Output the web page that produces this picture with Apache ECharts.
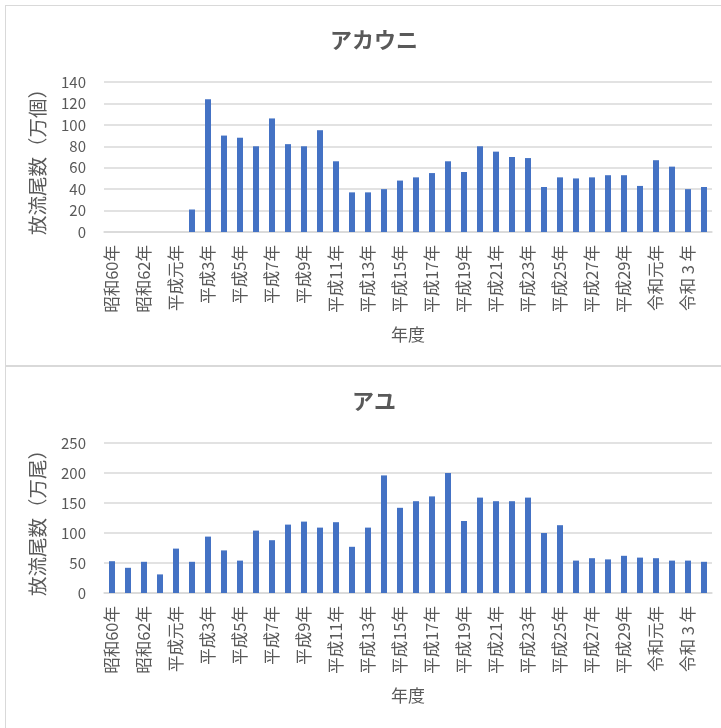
<!DOCTYPE html>
<html>
<head>
<meta charset="utf-8">
<script src="https://cdn.jsdelivr.net/npm/echarts@6/dist/echarts.min.js"></script>
<style>
html,body{margin:0;padding:0;background:#fff;width:721px;height:728px;overflow:hidden;}
.panel{position:absolute;box-sizing:border-box;border:1.5px solid #d9d9d9;background:#fff;}
#p1{left:5px;top:5px;width:730px;height:361px;}
#p2{left:5px;top:366px;width:730px;height:380px;}
.chart{position:absolute;left:0;top:0;width:720px;height:360px;}
</style>
</head>
<body>
<div id="p1" class="panel"><div id="c1" class="chart"></div></div>
<div id="p2" class="panel"><div id="c2" class="chart"></div></div>
<script>
const categories = ['昭和60年','昭和61年','昭和62年','昭和63年','平成元年','平成2年','平成3年','平成4年','平成5年','平成6年',
  '平成7年','平成8年','平成9年','平成10年','平成11年','平成12年','平成13年','平成14年','平成15年','平成16年',
  '平成17年','平成18年','平成19年','平成20年','平成21年','平成22年','平成23年','平成24年','平成25年','平成26年',
  '平成27年','平成28年','平成29年','平成30年','令和元年','令和2年','令和 3 年','令和4年'];
const akauniTitle = 'アカウニ';
const akauniValues = [null,null,null,null,null,21,124,90,88,80,
  106,82,80,95,66,37,37,40,48,51,
  55,66,56,80,75,70,69,42,51,50,
  51,53,53,43,67,61,40,42];
const akauniYName = '放流尾数（万個）';
const akauniTicks = {min:0, max:140, interval:20};
const ayuTitle = 'アユ';
const ayuValues = [53,42,52,31,74,52,94,71,54,104,
  88,114,119,109,118,77,109,196,142,153,
  161,200,120,159,153,153,159,100,113,54,
  58,56,62,59,58,54,54,52];
const ayuYName = '放流尾数（万尾）';
const ayuTicks = {min:0, max:250, interval:50};
const xName = '年度';

const FONT = '"Noto Sans CJK JP", "Noto Sans", sans-serif';
const TXT = '#595959';

function makeOption(title, values, yName, ticks){
  return {
    animation:false,
    textStyle:{fontFamily:FONT},
    title:{text:title,left:363,top:18,textAlign:'center',
      textStyle:{fontFamily:FONT,fontSize:22,fontWeight:'bold',color:TXT}},
    grid:{left:98,top:76,width:608,height:150,containLabel:false},
    xAxis:{type:'category',data:categories,
      name:xName,nameLocation:'middle',nameGap:94,
      nameTextStyle:{fontFamily:FONT,fontSize:17,color:TXT},
      axisLine:{show:true,lineStyle:{color:'#d9d9d9',width:1.5}},
      axisTick:{show:false},
      axisLabel:{interval:1,rotate:90,fontFamily:FONT,fontSize:16.5,color:TXT,margin:13}},
    yAxis:{type:'value',min:ticks.min,max:ticks.max,interval:ticks.interval,
      name:yName,nameLocation:'middle',nameGap:57,nameRotate:90,
      nameTextStyle:{fontFamily:FONT,fontSize:19.5,color:TXT},
      axisLine:{show:false},axisTick:{show:false},
      axisLabel:{fontFamily:FONT,fontSize:15,color:TXT,margin:18}},
    series:[{type:'bar',data:values,barWidth:6,
      itemStyle:{color:'#4472C4'}}]
  };
}
function opt(title, values, yName, ticks){
  const o = makeOption(title, values, yName, ticks);
  o.yAxis.splitLine = {lineStyle:{color:'#d9d9d9',width:1.5}};
  return o;
}
echarts.init(document.getElementById('c1')).setOption(opt(akauniTitle, akauniValues, akauniYName, akauniTicks));
echarts.init(document.getElementById('c2')).setOption(opt(ayuTitle, ayuValues, ayuYName, ayuTicks));
</script>
</body>
</html>
